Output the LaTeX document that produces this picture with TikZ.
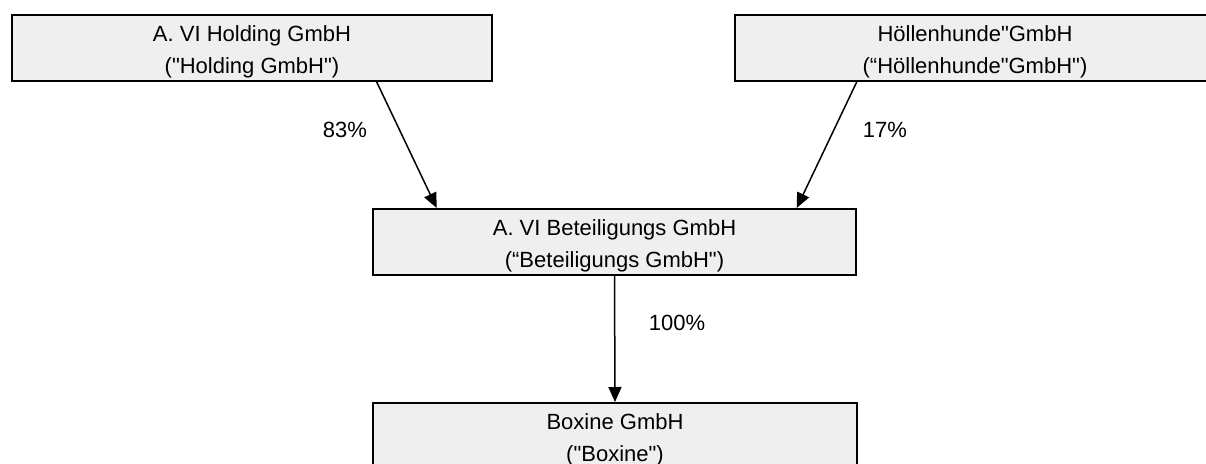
\documentclass[tikz,border=0pt]{standalone}
\usepackage{fontspec}
% no TeX mapping, so a typed " stays a straight quote
\setmainfont{Liberation Sans}[Ligatures=TeXOff]
\usetikzlibrary{arrows.meta}
% struts that fix the first baseline and the last depth inside a box
\newcommand{\topstrut}{\rule{0pt}{22.6pt}}
\newcommand{\botstrut}{\rule[-4.6pt]{0pt}{4.6pt}}
\newcommand{\sq}{\char"22\relax}
\begin{document}
\begin{tikzpicture}[x=1pt,y=-1pt,
  entity/.style={draw=black, line width=2pt, fill={rgb,255:red,239;green,239;blue,239},
    minimum width=480pt, minimum height=66pt, inner sep=0pt, align=center,
    font=\fontsize{22}{32}\selectfont},
  share/.style={line width=1.5pt, -{Triangle[length=15pt,width=13pt]}},
  pct/.style={font=\fontsize{22}{26}\selectfont, inner sep=0pt}]
\clip (0,0) rectangle (1206,463);
\fill[white] (0,0) rectangle (1206,463);

\node[entity] (hold) at (252,48) {\topstrut A. VI Holding GmbH\\(\sq Holding GmbH\sq)\botstrut};
\node[entity] (hell) at (975,48) {\topstrut Höllenhunde\sq GmbH\\(“Höllenhunde\sq GmbH\sq)\botstrut};
\node[entity, minimum width=483pt] (bet) at (614.5,242) {\topstrut A. VI Beteiligungs GmbH\\(“Beteiligungs GmbH\sq)\botstrut};
\node[entity, minimum width=484pt] (box) at (615,436) {\topstrut Boxine GmbH\\(\sq Boxine\sq)\botstrut};

\draw[share] ([xshift=124.7pt]hold.south) -- ([xshift=-177.8pt]bet.north);
\draw[share] ([xshift=-118.3pt]hell.south) -- ([xshift=182.2pt]bet.north);
\draw[share] (bet.south) -- (box.north);

\node[pct] (p83) at (345,130) {83\%};
\node[pct] (p17) at (885,130) {17\%};
\node[pct] (p100) at (677,323) {100\%};
\end{tikzpicture}
\end{document}
